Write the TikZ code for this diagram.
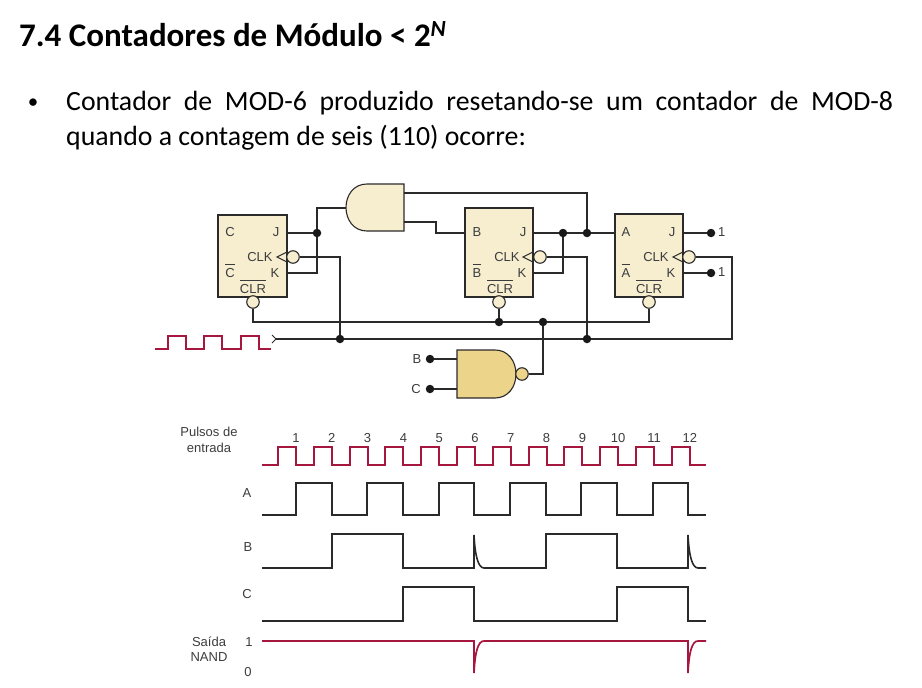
\documentclass[tikz,border=0pt]{standalone}
\usepackage{amsmath}
\usepackage{fontspec}
\setmainfont{Carlito}
\newfontfamily\figfont{Liberation Sans}
\definecolor{wirecol}{HTML}{2B2A2B}
\definecolor{pulsecol}{HTML}{A6173F}
\definecolor{ffcol}{HTML}{F7EDCF}
\definecolor{nandcol}{HTML}{EDD48B}
\definecolor{labelcol}{HTML}{3C3C3E}
\tikzset{
  ffbox/.style={rectangle, draw=wirecol, fill=ffcol, line width=1.5pt, inner sep=0pt},
  bubble/.style={circle, draw=wirecol, fill=ffcol, line width=1.1pt, inner sep=0pt, minimum size=12.5pt},
  joint/.style={circle, fill=black!90, inner sep=0pt, minimum size=8.5pt},
  pin/.style={font=\figfont\fontsize{13}{15}\selectfont, text=labelcol, inner sep=0pt},
  wire/.style={draw=wirecol, line width=2pt},
  thinwire/.style={draw=wirecol, line width=1.6pt},
  wave/.style={draw=wirecol, line width=1.6pt},
  redwave/.style={draw=pulsecol, line width=1.7pt}
}
\begin{document}
\begin{tikzpicture}[x=1pt, y=-1pt]
\useasboundingbox (0,0) rectangle (922,688);

\node[anchor=base west, inner sep=0pt, font=\bfseries\fontsize{33}{38}\selectfont] (title) at (19,46) {7.4 Contadores de Módulo < 2\textsuperscript{\itshape N}};
\node[anchor=base, inner sep=0pt, font=\fontsize{21}{30}\selectfont] (dot) at (33,108) {•};
\node[anchor=base west, inner sep=0pt, text width=827pt, align=justify, font=\fontsize{27.8}{35.5}\selectfont] (body) at (66,110) {Contador de MOD-6 produzido resetando-se um contador de MOD-8 quando a contagem de seis (110) ocorre:};

% flip-flops
\node[ffbox, minimum width=69pt, minimum height=82pt] (ffc) at (252.5,256) {};
\node[ffbox, minimum width=68pt, minimum height=89pt] (ffb) at (499,252.5) {};
\node[ffbox, minimum width=68pt, minimum height=83pt] (ffa) at (649,255.5) {};

\draw[draw=wirecol, line width=1pt] (287,252) -- (277,257) -- (287,262);
\draw[draw=wirecol, line width=1pt] (533,252) -- (523,257) -- (533,262);
\draw[draw=wirecol, line width=1pt] (683,252) -- (673,257) -- (683,262);

\foreach \ffname/\fx/\ltr in {c/230/C, b/477/B, a/626/A} {
  \node[pin] (q\ffname) at (\fx,232) {\ltr};
  \node[pin, anchor=base] (nq\ffname) at (\fx,277) {$\overline{\mbox{\ltr}\rule{0pt}{11.5pt}}$};
  \node[pin] (j\ffname) at (\fx+46,232) {J};
  \node[pin] (k\ffname) at (\fx+45,273) {K};
  \node[pin] (clk\ffname) at (\fx+30,257) {CLK};
  \node[pin, anchor=base] (clr\ffname) at (\fx+23,293) {$\overline{\mbox{CLR}\rule{0pt}{11.5pt}}$};
}

% bubbles
\node[bubble] (bc) at (293,257) {};
\node[bubble] (bb) at (540,257) {};
\node[bubble] (ba) at (689,257) {};
\node[bubble] (rc) at (253,302) {};
\node[bubble] (rb) at (499,302) {};
\node[bubble] (ra) at (649,302) {};

% gates
\draw[draw=wirecol, fill=ffcol, line width=1.1pt] (404,184) -- (367,184) .. controls (353,184) and (346,196) .. (346,207.5) .. controls (346,219) and (353,231) .. (367,231) -- (404,231) -- cycle;
\draw[draw=wirecol, fill=nandcol, line width=1.1pt] (457,350) -- (495,350) .. controls (508,350) and (516,361) .. (516,374) .. controls (516,387) and (508,398) .. (495,398) -- (457,398) -- cycle;
\node[bubble, fill=nandcol] (bn) at (522,374) {};

% pins and corners
\coordinate (andout) at (346,208);
\coordinate (andina) at (404,193);
\coordinate (andinb) at (404,222);
\coordinate (stepb) at (436,233);
\coordinate (pinjc) at (287,233);
\coordinate (pinkc) at (287,273);
\coordinate (pinjb) at (533,233);
\coordinate (pinkb) at (533,273);
\coordinate (pinbb) at (465,233);
\coordinate (pinja) at (683,233);
\coordinate (pinka) at (683,273);
\coordinate (pinaa) at (615,233);
\coordinate (nandina) at (457,359);
\coordinate (nandinb) at (457,389);
\coordinate (clkin) at (276,339);
\coordinate (clkend) at (732,339);

% junctions
\node[joint] (n1) at (317,233) {};
\node[joint] (n2) at (563,233) {};
\node[joint] (n3) at (587,233) {};
\node[joint] (n4) at (340,339) {};
\node[joint] (n5) at (587,339) {};
\node[joint] (n6) at (499,322) {};
\node[joint] (n7) at (543,322) {};
\node[joint] (ja) at (711,233) {};
\node[joint] (ka) at (711,273) {};
\node[joint] (inb) at (430,359) {};
\node[joint] (inc) at (430,389) {};

% wires
\draw[wire] (pinjc) -- (n1);
\draw[wire] (pinkc) -| (n1);
\draw[wire] (andout) -| (n1);
\draw[wire] (andina) -| (n3);
\draw[wire] (andinb) -| (stepb) -- (pinbb);
\draw[wire] (pinjb) -- (n2) -- (n3) -- (pinaa);
\draw[wire] (pinkb) -| (n2);
\draw[wire] (pinja) -- (ja);
\draw[wire] (pinka) -- (ka);
\draw[thinwire] (bc) -| (n4);
\draw[thinwire] (bb) -| (n5);
\draw[thinwire] (rc) |- (n6);
\draw[thinwire] (n6) -- (n7);
\draw[thinwire] (n7) -| (ra);
\draw[thinwire] (rb) -- (n6);
\draw[wire] (n7) |- (bn);
\draw[thinwire] (clkin) -- (n4) -- (n5) -- (clkend) |- (ba);
\draw[thinwire] (inb) -- (nandina);
\draw[thinwire] (inc) -- (nandinb);
\draw[draw=wirecol, line width=0.9pt] (272,335) -- (clkin) -- (272,343);

\node[pin, anchor=west] (one1) at (718,232) {1};
\node[pin, anchor=west] (one2) at (718,272) {1};
\node[pin] (lblb) at (417,359) {B};
\node[pin] (lblc) at (416,389) {C};

% clock in
\draw[redwave, line width=1.9pt] (155,349) -- (168,349) -- (168,336) -- (186,336) -- (186,349) -- (204,349) -- (204,336) -- (222,336) -- (222,349) -- (241,349) -- (241,336) -- (259,336) -- (259,349) -- (271,349);

% timing
\node[pin, align=center, font=\figfont\fontsize{13}{16}\selectfont] (pulsos) at (209,440) {Pulsos de\\entrada};
\node[pin] (lbla) at (247,493) {A};
\node[pin] (lblbb) at (248,547) {B};
\node[pin] (lblcc) at (247,594) {C};
\node[pin, align=center, font=\figfont\fontsize{13}{15}\selectfont] (saida) at (209,649.5) {Saída\\NAND};
\node[pin] (hi) at (249,642) {1};
\node[pin] (lo) at (248,672) {0};
\foreach \n in {1,...,12} {
  \node[pin, anchor=base] (num\n) at ({296+(\n-1)*35.8},442) {\n};
}

\draw[redwave, line width=2.2pt] (262,465) \foreach \n in {1,...,12} { -- ({round(278+(\n-1)*35.8)},465) -- ({round(278+(\n-1)*35.8)},447) -- ({round(296+(\n-1)*35.8)},447) -- ({round(296+(\n-1)*35.8)},465) } -- (706,465);

\draw[wave] (262,515) -- (296,515) -- (296,483) -- (332,483) -- (332,515) -- (367,515) -- (367,483) -- (403,483) -- (403,515) -- (439,515) -- (439,483) -- (474,483) -- (474,515) -- (510,515) -- (510,483) -- (546,483) -- (546,515) -- (581,515) -- (581,483) -- (617,483) -- (617,515) -- (653,515) -- (653,483) -- (688,483) -- (688,515) -- (706,515);

\draw[wave] (262,568) -- (332,568) -- (332,534) -- (403,534) -- (403,568) -- (474,568) -- (474,535) .. controls (475,555) and (478,568) .. (484,568) -- (546,568) -- (546,534) -- (617,534) -- (617,568) -- (688,568) -- (688,535) .. controls (689,555) and (692,568) .. (698,568) -- (706,568);

\draw[wave] (262,621) -- (403,621) -- (403,587) -- (474,587) -- (474,621) -- (617,621) -- (617,587) -- (688,587) -- (688,621) -- (706,621);

\draw[redwave] (262,641) -- (474,641) -- (474,673) .. controls (475,652) and (478,641) .. (484,641) -- (688,641) -- (688,673) .. controls (689,652) and (692,641) .. (698,641) -- (706,641);
\end{tikzpicture}
\end{document}
